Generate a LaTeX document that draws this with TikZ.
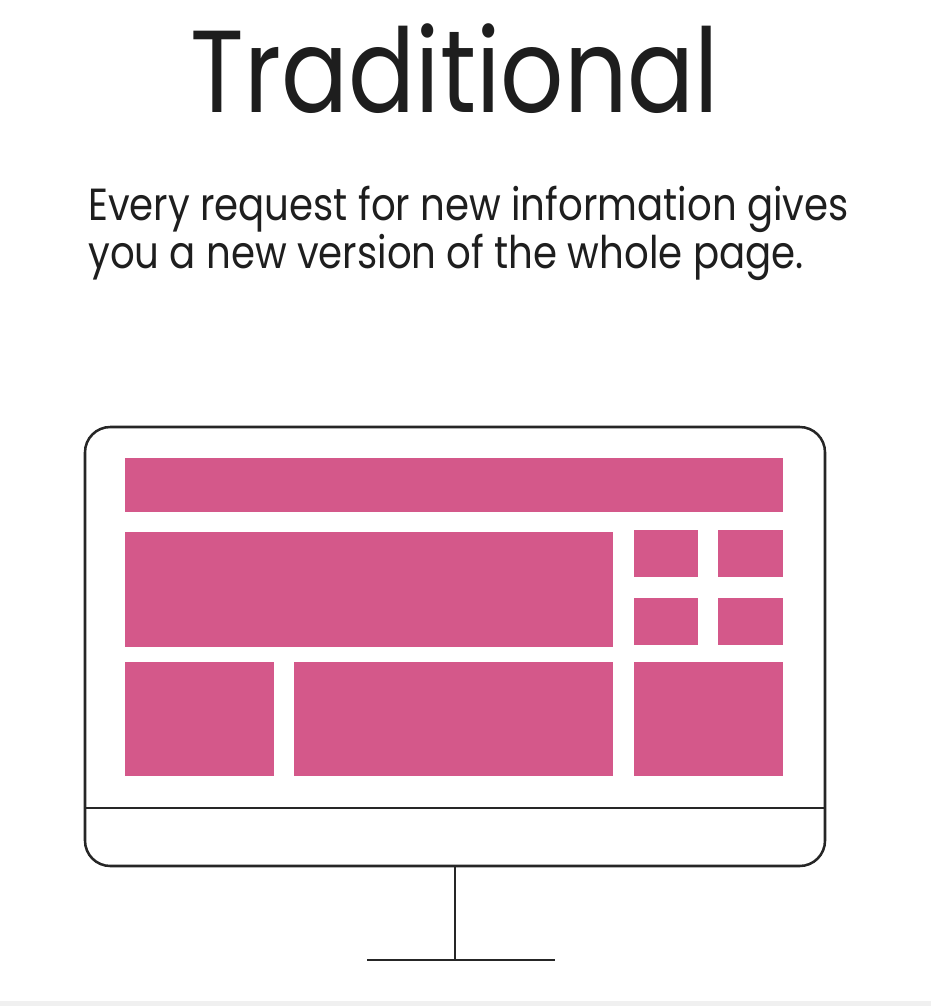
\documentclass[tikz,border=0pt]{standalone}
\usepackage{fontspec}
\setmainfont{Poppins}
\newfontfamily\headfont{Poppins}[FakeStretch=0.85]
\newfontfamily\bodyfont{Poppins}[FakeStretch=0.86]
\usepackage{tikz}
\definecolor{PagePink}{HTML}{D4588A}
\definecolor{FrameInk}{HTML}{262626}
\definecolor{TextInk}{HTML}{1E1E1E}

\tikzset{
  block/.style={fill=PagePink},
  frame/.style={FrameInk,line width=1.8pt},
  caption/.style={anchor=base west,inner sep=0pt,TextInk,font=\bodyfont\fontsize{32}{34}\selectfont},
}

\begin{document}
\begin{tikzpicture}[x=0.025cm,y=-0.025cm]
  \useasboundingbox (0,0) rectangle (931,1006);
  \fill[gray!12] (0,1001) rectangle (931,1006);
  % heading and caption
  \node[anchor=base,inner sep=0pt,TextInk,font=\headfont\fontsize{83}{90}\selectfont] (title) at (455,112) {Traditional};
  \node[caption] (cap1) at (88,220) {Every request for new information gives};
  \node[caption] (cap2) at (88,268) {you a new version of the whole page.};
  % screen blocks
  \fill[block] (125,458) rectangle (783,512);
  \fill[block] (125,532) rectangle (613,647);
  \fill[block] (634,530) rectangle (698,577);
  \fill[block] (718,530) rectangle (783,577);
  \fill[block] (634,598) rectangle (698,645);
  \fill[block] (718,598) rectangle (783,645);
  \fill[block] (125,662) rectangle (274,776);
  \fill[block] (294,662) rectangle (613,776);
  \fill[block] (634,662) rectangle (783,776);
  % monitor
  \draw[frame,rounded corners=18] (85,427) rectangle (825,866);
  \draw[frame] (85,808) -- (825,808);
  \coordinate (neck) at (455,866);
  \coordinate (foot) at (455,960);
  \draw[frame] (neck) -- (foot);
  \draw[frame] (367,960) -- (555,960);
\end{tikzpicture}
\end{document}
